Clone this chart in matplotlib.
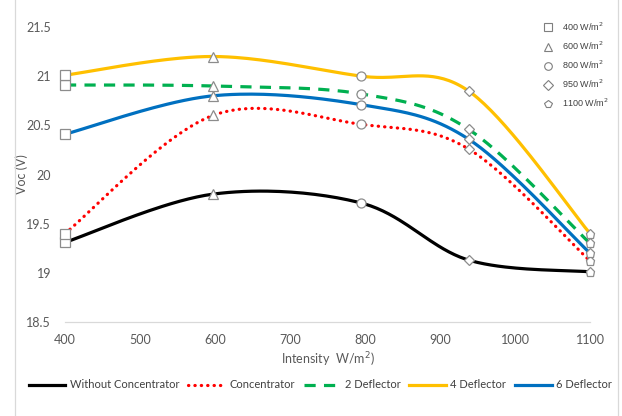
"""Open-circuit voltage vs. light intensity for the concentrator/deflector setups."""

import numpy as np
import matplotlib.pyplot as plt
from matplotlib.lines import Line2D
from matplotlib.patches import Rectangle

# measured intensities (W/m2) and marker shape used at each level
intensity = [400, 597, 795, 938, 1100]
level_labels = ["400 W/m$^2$", "600 W/m$^2$", "800 W/m$^2$", "950 W/m$^2$", "1100 W/m$^2$"]
level_markers = ["s", "^", "o", "D", "p"]

# Voc (V) for each configuration
voc_without = [19.31, 19.80, 19.71, 19.13, 19.01]
voc_concentrator = [19.40, 20.60, 20.51, 20.26, 19.12]
voc_2_deflector = [20.91, 20.90, 20.82, 20.46, 19.30]
voc_4_deflector = [21.01, 21.20, 21.00, 20.85, 19.40]
voc_6_deflector = [20.41, 20.80, 20.71, 20.36, 19.20]

series_names = ["Without Concentrator", "Concentrator", "2 Deflector", "4 Deflector", "6 Deflector"]

TEXT = "#595959"


def smooth(xs, ys, n=40):
    """Bezier smoothing through every point (Excel-style smoothed line)."""
    pts = np.column_stack([xs, ys]).astype(float)
    padded = np.vstack([pts[0], pts, pts[-1]])
    t = np.linspace(0, 1, n)[:, None]
    out = []
    for i in range(len(pts) - 1):
        p0, p1, p2, p3 = padded[i:i + 4]
        c1 = p1 + (p2 - p0) / 6
        c2 = p2 - (p3 - p1) / 6
        seg = (1 - t) ** 3 * p1 + 3 * (1 - t) ** 2 * t * c1 + 3 * (1 - t) * t ** 2 * c2 + t ** 3 * p2
        out.append(seg if i == 0 else seg[1:])
    curve = np.vstack(out)
    return curve[:, 0], curve[:, 1]


plt.rcParams["font.family"] = ["Lato", "DejaVu Sans"]

fig = plt.figure(figsize=(6.22, 4.16), dpi=100)
ax = fig.add_axes([65 / 622, 1 - 322 / 416, 525 / 622, 295 / 416])

styles = [
    dict(color="black", linestyle="-"),
    dict(color="#ff0000", linestyle=(0, (0.1, 1.9)), dash_capstyle="round"),
    dict(color="#00b050", linestyle=(0, (3.5, 2.6))),
    dict(color="#ffc000", linestyle="-"),
    dict(color="#0070c0", linestyle="-"),
]
all_voc = [voc_without, voc_concentrator, voc_2_deflector, voc_4_deflector, voc_6_deflector]

line_handles = []
for name, voc, st in zip(series_names, all_voc, styles):
    sx, sy = smooth(intensity, voc)
    (ln,) = ax.plot(sx, sy, lw=2.3, label=name, zorder=2, **st)
    line_handles.append(ln)
    for x, y, m in zip(intensity, voc, level_markers):
        ax.plot(x, y, marker=m, ms=6.5 if m != "D" else 5.5, mfc="white",
                mec="#8c8c8c", mew=0.9, ls="none", zorder=3, clip_on=False)

ax.set_xlim(400, 1100)
ax.set_ylim(18.5, 21.5)
ax.set_xticks(range(400, 1101, 100))
ax.set_yticks([18.5, 19, 19.5, 20, 20.5, 21, 21.5])
ax.set_yticklabels(["18.5", "19", "19.5", "20", "20.5", "21", "21.5"])
ax.tick_params(length=0, labelsize=9, colors=TEXT)
ax.tick_params(axis="x", pad=9)
ax.tick_params(axis="y", pad=10)
for side in ["top", "right", "left"]:
    ax.spines[side].set_visible(False)
ax.spines["bottom"].set_color("#d9d9d9")
ax.spines["bottom"].set_linewidth(0.9)

ax.set_xlabel("Intensity  W/m$^2$)", fontsize=9, color=TEXT, labelpad=3)
ax.set_ylabel("Voc (V)", fontsize=9, color=TEXT)
ax.yaxis.set_label_coords(-0.07, 0.5)

# legend for the series, along the bottom
fig.legend(handles=line_handles, loc="center", bbox_to_anchor=(0.515, 1 - 385 / 416),
           ncol=5, frameon=False, fontsize=8, handlelength=3.3, handletextpad=0.4,
           columnspacing=0.8, labelcolor="#404040")

# marker legend for the intensity levels
level_handles = [Line2D([], [], marker=m, ls="none", ms=5.5 if m != "D" else 5,
                        mfc="white", mec="#7f7f7f", mew=0.8) for m in level_markers]
fig.legend(handles=level_handles, labels=level_labels, loc="upper left",
           bbox_to_anchor=(534 / 622, 1 - 12 / 416), frameon=False,
           prop={"family": "Liberation Sans", "size": 6.5}, labelcolor="#404040",
           handlelength=1.2, handletextpad=1.0, labelspacing=0.75)

# chart frame
fig.add_artist(Rectangle((15 / 622, -0.02), 603 / 622, 1.04, transform=fig.transFigure,
                         fill=False, ec="#d9d9d9", lw=0.9))

fig.savefig("out.png", dpi=100)
